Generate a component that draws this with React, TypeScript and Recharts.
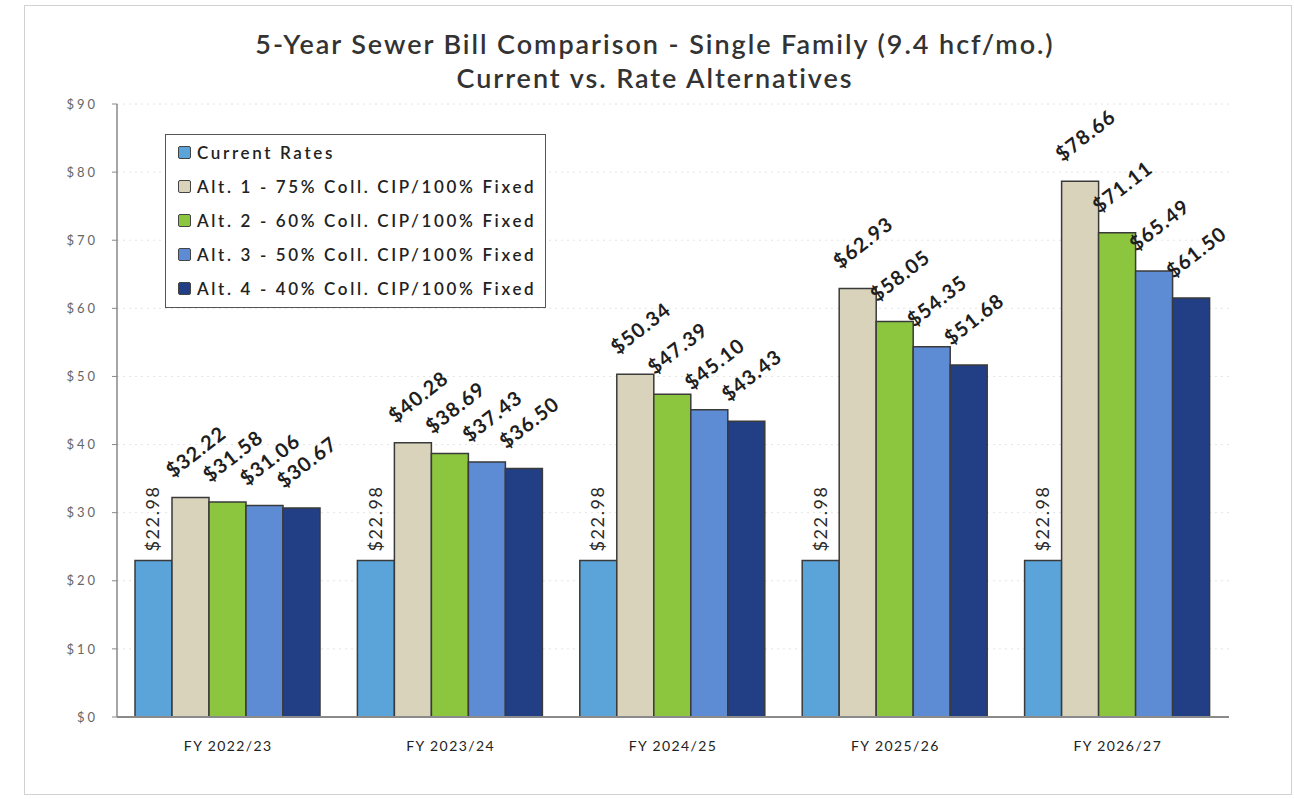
import React from 'react';
import { BarChart, Bar, XAxis, YAxis, CartesianGrid, Legend, LabelList } from 'recharts';

const categories = ['FY 2022/23', 'FY 2023/24', 'FY 2024/25', 'FY 2025/26', 'FY 2026/27'];
const currentRates = [22.98, 22.98, 22.98, 22.98, 22.98];
const alt1 = [32.22, 40.28, 50.34, 62.93, 78.66];
const alt2 = [31.58, 38.69, 47.39, 58.05, 71.11];
const alt3 = [31.06, 37.43, 45.10, 54.35, 65.49];
const alt4 = [30.67, 36.50, 43.43, 51.68, 61.50];
const yTicks = [0, 10, 20, 30, 40, 50, 60, 70, 80, 90];

const seriesKeys = ['current', 'alt1', 'alt2', 'alt3', 'alt4'];
const seriesNames = [
  'Current Rates',
  'Alt. 1 - 75% Coll. CIP/100% Fixed',
  'Alt. 2 - 60% Coll. CIP/100% Fixed',
  'Alt. 3 - 50% Coll. CIP/100% Fixed',
  'Alt. 4 - 40% Coll. CIP/100% Fixed',
];
const seriesColors = ['#5AA4DA', '#D9D3BC', '#8CC63F', '#5E8CD4', '#223F85'];

const data = categories.map((c, i) => ({
  category: c,
  current: currentRates[i],
  alt1: alt1[i],
  alt2: alt2[i],
  alt3: alt3[i],
  alt4: alt4[i],
}));

const FONT = 'Lato, "Open Sans", sans-serif';

const fmt = (v: any) => '$' + Number(v).toFixed(2);

const AngledLabel = (props: any) => {
  const { x, y, value } = props;
  const px = Number(x) + 1;
  const py = Number(y) - 19;
  return (
    <text
      x={px}
      y={py}
      transform={`rotate(-38 ${px} ${py})`}
      textAnchor="start"
      fontFamily={FONT}
      fontSize={20}
      fontWeight={700}
      letterSpacing={1.1}
      fill="#1e1e1e"
    >
      {fmt(value)}
    </text>
  );
};

const VerticalLabel = (props: any) => {
  const { x, y, width, value } = props;
  const px = Number(x) + Number(width) / 2 + 6;
  const py = Number(y) - 9;
  return (
    <text
      x={px}
      y={py}
      transform={`rotate(-90 ${px} ${py})`}
      textAnchor="start"
      fontFamily={FONT}
      fontSize={18}
      letterSpacing={1.6}
      fill="#2a2a2a"
    >
      {fmt(value)}
    </text>
  );
};

const LegendBox = () => (
  <div
    style={{
      width: 381,
      height: 174,
      border: '1.5px solid #555',
      boxSizing: 'border-box',
      background: '#fff',
      padding: '0 0 0 12px',
      fontFamily: FONT,
    }}
  >
    {seriesNames.map((n, i) => (
      <div key={n} style={{ display: 'flex', alignItems: 'center', height: 34 }}>
        <div
          style={{
            width: 11,
            height: 11,
            background: seriesColors[i],
            border: '1.5px solid #444',
            borderRadius: 2,
            marginRight: 6,
          }}
        />
        <span style={{ fontSize: 17, fontWeight: 600, color: '#222', letterSpacing: 2.65, whiteSpace: 'nowrap' }}>{n}</span>
      </div>
    ))}
  </div>
);

export default function App() {
  return (
    <div style={{ position: 'absolute', left: 0, top: 0, width: 1294, height: 799, background: '#fff' }}>
      <div
        style={{
          position: 'absolute',
          left: 24,
          top: 5,
          width: 1268,
          height: 790,
          border: '1px solid #d2d2d2',
          boxSizing: 'border-box',
        }}
      />
      <div
        style={{
          position: 'absolute',
          left: 0,
          top: 27,
          width: 1310,
          textAlign: 'center',
          fontFamily: FONT,
          fontWeight: 600,
          fontSize: 27,
          lineHeight: '34px',
          color: '#333',
          letterSpacing: 1.95,
        }}
      >
        <div>5-Year Sewer Bill Comparison - Single Family (9.4 hcf/mo.)</div>
        <div>Current vs. Rate Alternatives</div>
      </div>
      <div style={{ position: 'absolute', left: 0, top: 0 }}>
        <BarChart
          width={1294}
          height={799}
          data={data}
          margin={{ top: 104, right: 65, bottom: 52, left: 57 }}
          barCategoryGap={18}
          barGap={0}
        >
          <CartesianGrid vertical={false} stroke="#e4e4e4" strokeDasharray="2 4" />
          <XAxis
            dataKey="category"
            height={30}
            tickLine={false}
            axisLine={{ stroke: '#8a8a8a', strokeWidth: 2 }}
            tickMargin={18}
            tick={{ fontFamily: FONT, fontSize: 14, fill: '#222', letterSpacing: 1.4 }}
          />
          <XAxis
            xAxisId="top"
            orientation="top"
            dataKey="category"
            height={0}
            tick={false}
            tickLine={false}
            axisLine={{ stroke: '#777', strokeWidth: 1.5 }}
          />
          <YAxis
            width={60}
            domain={[0, 90]}
            ticks={yTicks}
            interval={0}
            tickFormatter={(v: number) => '$' + v}
            tickSize={5}
            tickMargin={14}
            tickLine={{ stroke: '#888' }}
            axisLine={{ stroke: '#888', strokeWidth: 1.5 }}
            tick={{ fontFamily: FONT, fontSize: 13, fill: '#666', letterSpacing: 3 }}
          />
          <YAxis
            yAxisId="right"
            orientation="right"
            width={0}
            domain={[0, 90]}
            tick={false}
            tickLine={false}
            axisLine={{ stroke: '#777', strokeWidth: 1.5 }}
          />
          <Legend
            layout="vertical"
            align="center"
            verticalAlign="middle"
            content={() => <LegendBox />}
            wrapperStyle={{ left: 165, top: 134, width: 381, height: 174 }}
          />
          {seriesKeys.map((k, i) => (
            <Bar
              key={k}
              dataKey={k}
              name={seriesNames[i]}
              fill={seriesColors[i]}
              stroke="#3a3a3a"
              strokeWidth={1.5}
              isAnimationActive={false}
            >
              <LabelList dataKey={k} content={i === 0 ? <VerticalLabel /> : <AngledLabel />} />
            </Bar>
          ))}
        </BarChart>
      </div>
    </div>
  );
}
